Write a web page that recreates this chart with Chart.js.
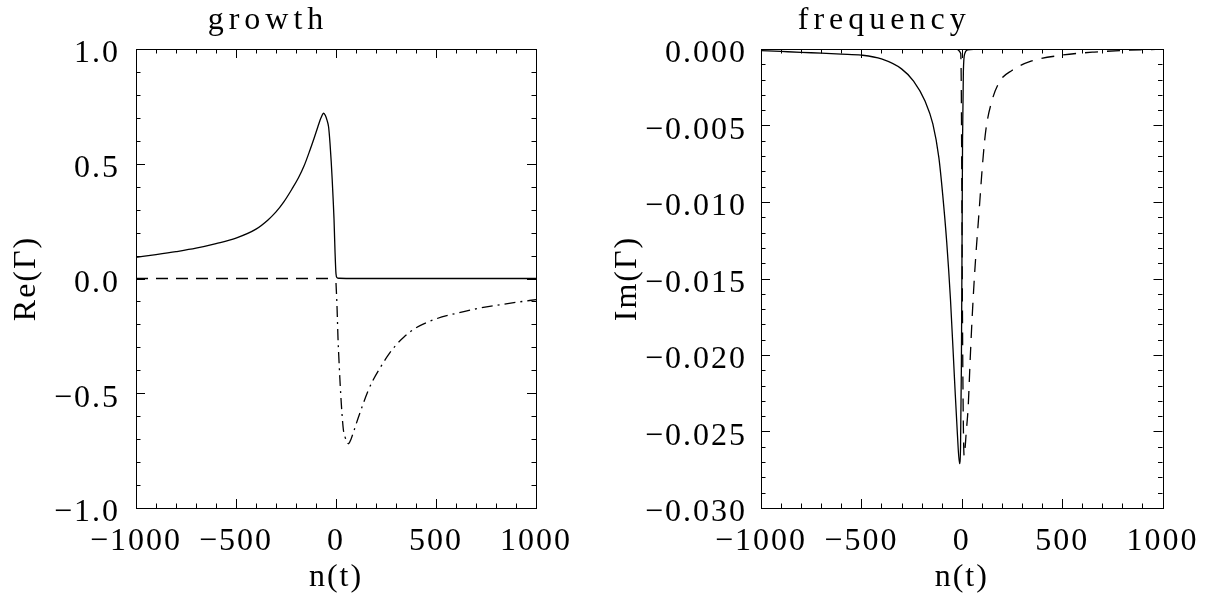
<!DOCTYPE html>
<html><head><meta charset="utf-8">
<script src="https://cdn.jsdelivr.net/npm/chart.js@4.4.0/dist/chart.umd.min.js"></script>
<style>
html,body{margin:0;padding:0;background:#fff;width:1212px;height:599px;overflow:hidden}
#w1{position:absolute;left:0;top:0;width:606px;height:599px}
#w2{position:absolute;left:606px;top:0;width:606px;height:599px}
</style></head><body>
<div id="w1"><canvas id="c1"></canvas></div>
<div id="w2"><canvas id="c2"></canvas></div>
<script>
// ---------- data ----------
const xTicks = [-1000, -500, 0, 500, 1000];
const growthTicks = [-1.0, -0.5, 0.0, 0.5, 1.0];
const freqTicks = [-0.030, -0.025, -0.020, -0.015, -0.010, -0.005, 0.000];

// growth panel: solid (Re of mode 1)
const growthSolidX = [-1000,-900,-800,-700,-600,-500,-400,-340,-300,-260,-220,-187,-160,-130,-110,-91,-75,-62,-53,-45,-37,-30,-24,-19,-14,-10,-5,0,5,15,100,1000];
const growthSolidY = [0.092,0.104,0.117,0.132,0.152,0.176,0.215,0.255,0.29,0.335,0.39,0.44,0.49,0.56,0.61,0.66,0.70,0.72,0.71,0.69,0.66,0.59,0.51,0.43,0.34,0.26,0.12,0.02,0.004,0.001,0,0];
// growth panel: dashed (zero branch)
const growthDashX = [-1000, 0];
const growthDashY = [0, 0];
// growth panel: dash-dot (Re of mode 2)
const growthDotX = [0,5,10,14,19,24,30,37,45,53,62,75,91,110,130,160,187,220,260,300,340,400,500,600,700,800,900,1000];
const growthDotY = [-0.02,-0.12,-0.26,-0.34,-0.43,-0.51,-0.59,-0.66,-0.69,-0.71,-0.72,-0.70,-0.66,-0.61,-0.56,-0.49,-0.44,-0.39,-0.335,-0.29,-0.255,-0.215,-0.176,-0.152,-0.132,-0.117,-0.104,-0.092];

// frequency panel: solid
const freqSolidX = [-1000,-900,-800,-700,-600,-500,-400,-300,-240,-183,-144,-114,-95,-75,-56,-36,-22,-11,-6,-2,1,4,8,15,30,100,1000];
const freqSolidY = [-0.0001,-0.00016,-0.00022,-0.00027,-0.00033,-0.0004,-0.00065,-0.0013,-0.0021,-0.0034,-0.0049,-0.0071,-0.0095,-0.0126,-0.0164,-0.0216,-0.0251,-0.0271,-0.026,-0.021,-0.014,-0.006,-0.0015,-0.0003,-0.00005,0,0];
// frequency panel: dashed
const freqDashX = [-30,-5,-2,0,3,6,9,12,16,22,32,42,52,65,87,105,120,150,190,250,345,500,660,890,1000];
const freqDashY = [0,-0.0003,-0.003,-0.008,-0.016,-0.022,-0.0255,-0.0266,-0.0262,-0.0251,-0.0234,-0.0203,-0.0175,-0.0145,-0.0105,-0.0073,-0.0053,-0.0034,-0.0021,-0.0014,-0.0008,-0.0004,-0.0002,-0.00005,-0.00002];

// ---------- helpers ----------
const pts = (xs, ys) => xs.map((x, i) => ({x, y: ys[i]}));
const FONT = 'Liberation Serif, DejaVu Serif, serif';
const FS = 32;
const fmt = (v, d) => { const s = Math.abs(v).toFixed(d); return (v < 0 && Number(s) !== 0 ? '\u2212' : '') + s; };

const boxTicks = {
  id: 'boxTicks',
  afterDatasetsDraw(chart, args, o) {
    const {ctx, chartArea: a, scales: {x, y}} = chart;
    ctx.save();
    ctx.strokeStyle = '#000';
    ctx.lineWidth = 1;
    ctx.beginPath();
    const nx = Math.round((x.max - x.min) / o.xMinor);
    for (let i = 0; i <= nx; i++) {
      const len = (i % o.xRatio === 0) ? 9 : 4.5;
      const p = Math.round(x.getPixelForValue(x.min + i * o.xMinor)) + 0.5;
      ctx.moveTo(p, a.bottom); ctx.lineTo(p, a.bottom - len);
      ctx.moveTo(p, a.top); ctx.lineTo(p, a.top + len);
    }
    const ny = Math.round((y.max - y.min) / o.yMinor);
    for (let i = 0; i <= ny; i++) {
      const len = (i % o.yRatio === 0) ? 9 : 4.5;
      const p = Math.round(y.getPixelForValue(y.min + i * o.yMinor)) + 0.5;
      ctx.moveTo(a.left, p); ctx.lineTo(a.left + len, p);
      ctx.moveTo(a.right, p); ctx.lineTo(a.right - len, p);
    }
    ctx.stroke();
    ctx.strokeRect(Math.round(a.left) + 0.5, Math.round(a.top) + 0.5, Math.round(a.right - a.left), Math.round(a.bottom - a.top));
    ctx.restore();
  }
};
const spacing = {
  id: 'spacing',
  beforeDraw(c) {
    c.ctx.letterSpacing = '2px';
    const tb = c.titleBlock;
    if (tb && !tb._wrapped) {
      const orig = tb.draw.bind(tb);
      tb.draw = function(area) {
        const prev = c.ctx.letterSpacing;
        c.ctx.letterSpacing = '5px';
        orig(area);
        c.ctx.letterSpacing = prev;
      };
      tb._wrapped = true;
    }
  },
  afterDraw(c) { c.ctx.letterSpacing = '0px'; }
};

function makeChart(id, cfg) {
  return new Chart(document.getElementById(id), {
    type: 'line',
    data: {datasets: cfg.datasets},
    options: {
      responsive: true, maintainAspectRatio: false, animation: false,
      layout: {padding: {left: 0, right: cfg.padRight, top: 0, bottom: 0}},
      elements: {point: {radius: 0}, line: {borderColor: '#000', borderWidth: 1.3, cubicInterpolationMode: 'monotone', fill: false}},
      plugins: {
        legend: {display: false}, tooltip: {enabled: false},
        title: {display: true, text: cfg.title, color: '#000', font: {family: FONT, size: FS, weight: 'normal', lineHeight: 1.2}, padding: {top: 1, bottom: 9.6}},
        boxTicks: cfg.ticks
      },
      scales: {
        x: {
          type: 'linear', min: -1000, max: 1000,
          afterBuildTicks: s => { s.ticks = xTicks.map(v => ({value: v})); },
          grid: {display: false}, border: {display: false},
          ticks: {color: '#000', font: {family: FONT, size: FS}, padding: 6, maxRotation: 0, callback: v => fmt(v, 0)},
          title: {display: true, text: 'n(t)', color: '#000', font: {family: FONT, size: FS}, padding: {top: 0, bottom: 2}},
          afterFit: s => { s.height = 599 - cfg.bottom; }
        },
        y: {
          type: 'linear', min: cfg.ymin, max: cfg.ymax,
          afterBuildTicks: s => { s.ticks = cfg.yTicks.map(v => ({value: v})); },
          grid: {display: false}, border: {display: false},
          ticks: {color: '#000', font: {family: FONT, size: FS}, padding: cfg.tickPad, labelOffset: 5, callback: v => fmt(v, cfg.dec)},
          title: {display: true, text: cfg.ytitle, color: '#000', font: {family: FONT, size: FS}, padding: {top: cfg.ytPad, bottom: 0}},
          afterFit: s => { s.width = cfg.left; }
        }
      }
    },
    plugins: [boxTicks, spacing]
  });
}

makeChart('c1', {
  title: 'growth', ytitle: 'Re(\u0393)', ymin: -1, ymax: 1, yTicks: growthTicks, dec: 1,
  padRight: 606 - 536, left: 136, bottom: 508, ytPad: 7, tickPad: 8,
  ticks: {xMinor: 100, xRatio: 5, yMinor: 0.1, yRatio: 5},
  datasets: [
    {data: pts(growthSolidX, growthSolidY)},
    {data: pts(growthDashX, growthDashY), borderDash: [12, 8], cubicInterpolationMode: 'default', tension: 0},
    {data: pts(growthDotX, growthDotY), borderDash: [11, 5, 2, 5]}
  ]
});
makeChart('c2', {
  title: 'frequency', ytitle: 'Im(\u0393)', ymin: -0.030, ymax: 0.000, yTicks: freqTicks, dec: 3,
  padRight: 606 - 556.5, left: 155, bottom: 508, ytPad: 2, tickPad: 6,
  ticks: {xMinor: 100, xRatio: 5, yMinor: 0.001, yRatio: 5},
  datasets: [
    {data: pts(freqSolidX, freqSolidY)},
    {data: pts(freqDashX, freqDashY), borderDash: [13, 9]}
  ]
});
</script>
</body></html>
